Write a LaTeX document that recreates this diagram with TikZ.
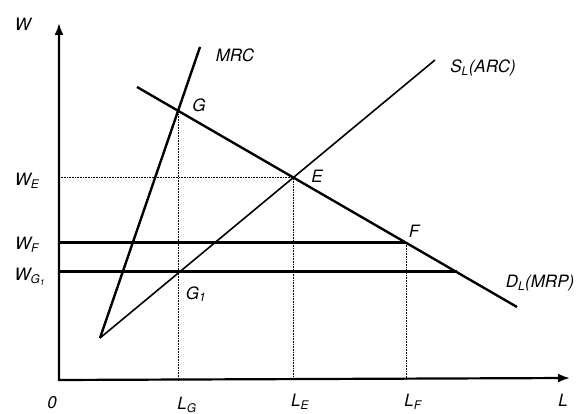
\documentclass[tikz,border=0pt]{standalone}
\usepackage{fontspec}
\setmainfont{TeX Gyre Heros}
\usetikzlibrary{arrows.meta}
\tikzset{
  lab/.style={font=\fontsize{17}{19}\selectfont\itshape, inner sep=0pt},
  axis/.style={line width=2.2pt},
  curve/.style={line width=2.4pt},
  thincurve/.style={line width=1.6pt},
  wage/.style={line width=3pt},
  guide/.style={line width=0.6pt, densely dotted}
}
\begin{document}
\begin{tikzpicture}[x=1pt,y=1pt]
  \useasboundingbox (-59,-34) rectangle (526,380);
  % axes
  \coordinate (O) at (0,0);
  \coordinate (ytop) at (0,357); \coordinate (xend) at (511,2);
  \draw[axis,{Latex[length=12pt,width=9pt]}-{Latex[length=12pt,width=9pt]}] (ytop) -- (O) -- (xend);
  % curves
  \coordinate (A) at (41,42); \coordinate (MRCend) at (141,333);
  \coordinate (SLend) at (376,320);
  \coordinate (DLstart) at (78,293); \coordinate (DLend) at (458,73);
  \coordinate (G) at (intersection of A--MRCend and DLstart--DLend);
  \coordinate (E) at (intersection of A--SLend and DLstart--DLend);
  \coordinate (F) at (intersection of DLstart--DLend and 0,137--1,137);
  \coordinate (H) at (intersection of DLstart--DLend and 0,108--1,108);
  \coordinate (G1) at (intersection of A--SLend and 0,108--1,108);
  % guide lines
  \draw[guide] (G) -- (G |- O);
  \draw[guide] (E) -- (E |- O);
  \draw[guide] (F) -- (F |- O);
  \draw[guide] (O |- E) -- (E);
  % wage lines
  \draw[wage] (O |- F) -- (F);
  \draw[wage] (O |- H) -- (H);
  \draw[curve, line join=miter] (MRCend) -- (A);
  \draw[thincurve] (A) -- (SLend);
  \draw[curve] (DLstart) -- (DLend);
  % labels
  \node[lab] (lW) at (-36,356) {W};
  \node[lab] (lMRC) at (176,325) {MRC};
  \node[lab] (lG) at (140,275) {G};
  \node[lab] (lE) at (258,204) {E};
  \node[lab] (lF) at (355,149) {F};
  \node[lab] (lG1) at (137,86) {G\textsubscript{1}};
  \node[lab] (lSL) at (424,312) {S\textsubscript{L}(ARC)};
  \node[lab] (lDL) at (481,97) {D\textsubscript{L}(MRP)};
  \node[lab] (lWE) at (-32,199) {W\textsubscript{E}};
  \node[lab] (lWF) at (-32,135) {W\textsubscript{F}};
  \node[lab] (lWG) at (-29,103) {W\textsubscript{G\textsubscript{1}}};
  \node[lab] (l0) at (-7,-23) {0};
  \node[lab] (lLG) at (128,-25) {L\textsubscript{G}};
  \node[lab] (lLE) at (241,-22) {L\textsubscript{E}};
  \node[lab] (lLF) at (354,-22) {L\textsubscript{F}};
  \node[lab] (lL) at (504,-20) {L};
\end{tikzpicture}
\end{document}
